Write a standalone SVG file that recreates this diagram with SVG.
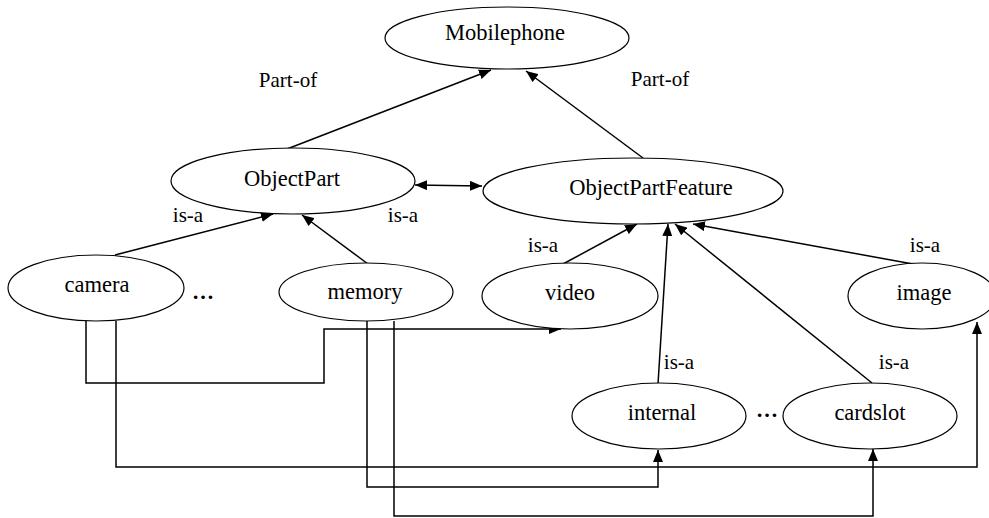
<svg xmlns="http://www.w3.org/2000/svg" width="989" height="518" viewBox="0 0 989 518">
<style>
  .node ellipse { fill: #fff; stroke: #000; stroke-width: 1.2; }
  text { font-family: "Liberation Serif", "DejaVu Serif", "Times New Roman", serif; font-size: 21px; fill: #000; text-anchor: middle; }
  .node text { font-size: 22.5px; }
  .dots { font-weight: bold; font-size: 22px; }
  .edge { fill: none; stroke: #000; stroke-width: 1.5; }
</style>
<defs>
  <marker id="arr" markerUnits="userSpaceOnUse" markerWidth="12" markerHeight="10" refX="12" refY="5" orient="auto-start-reverse" viewBox="0 0 12 10">
    <path d="M0,0 L12,5 L0,10 z" fill="#000"/>
  </marker>
</defs>
<rect width="989" height="518" fill="#fff"/>
<g id="connectors">
  <line class="edge" x1="287" y1="149" x2="491" y2="70" marker-end="url(#arr)"/>
  <line class="edge" x1="643" y1="158" x2="526" y2="71" marker-end="url(#arr)"/>
  <line class="edge" x1="415" y1="185" x2="482" y2="186" marker-start="url(#arr)" marker-end="url(#arr)"/>
  <line class="edge" x1="115" y1="255" x2="273" y2="214" marker-end="url(#arr)"/>
  <line class="edge" x1="368" y1="264" x2="302" y2="215" marker-end="url(#arr)"/>
  <line class="edge" x1="563" y1="264" x2="637" y2="224" marker-end="url(#arr)"/>
  <line class="edge" x1="658" y1="384" x2="668" y2="224" marker-end="url(#arr)"/>
  <line class="edge" x1="872" y1="383" x2="675" y2="224" marker-end="url(#arr)"/>
  <line class="edge" x1="913" y1="264" x2="693" y2="224" marker-end="url(#arr)"/>
  <polyline class="edge" points="86,321 86,383 324,383 324,329 561,329" marker-end="url(#arr)"/>
  <polyline class="edge" points="116,321 116,467 977,467 977,322" marker-end="url(#arr)"/>
  <polyline class="edge" points="367,321 367,487 658,487 658,450" marker-end="url(#arr)"/>
  <polyline class="edge" points="394,321 394,516 873,516 873,449" marker-end="url(#arr)"/>
</g>
<g id="labels">
  <text x="288" y="87">Part-of</text>
  <text x="660" y="86">Part-of</text>
  <text x="188" y="222">is-a</text>
  <text x="403" y="222">is-a</text>
  <text x="543" y="252">is-a</text>
  <text x="925" y="252">is-a</text>
  <text x="679" y="369">is-a</text>
  <text x="894" y="369">is-a</text>
  <text class="dots" x="203" y="299">…</text>
  <text class="dots" x="767" y="417">…</text>
</g>
<g id="Mobilephone" class="node"><ellipse cx="507" cy="38" rx="122" ry="31"/><text x="505" y="40">Mobilephone</text></g>
<g id="ObjectPart" class="node"><ellipse cx="293" cy="181" rx="122" ry="33"/><text x="292" y="186">ObjectPart</text></g>
<g id="ObjectPartFeature" class="node"><ellipse cx="633" cy="191" rx="150" ry="33"/><text x="651" y="195">ObjectPartFeature</text></g>
<g id="camera" class="node"><ellipse cx="96" cy="288" rx="88" ry="33"/><text x="97" y="292">camera</text></g>
<g id="memory" class="node"><ellipse cx="366" cy="292" rx="87" ry="29"/><text x="365" y="299">memory</text></g>
<g id="video" class="node"><ellipse cx="570" cy="296" rx="88" ry="33"/><text x="570" y="300">video</text></g>
<g id="image" class="node"><ellipse cx="922" cy="296" rx="74" ry="33"/><text x="924" y="300">image</text></g>
<g id="internal" class="node"><ellipse cx="659" cy="416" rx="87" ry="33"/><text x="662" y="420">internal</text></g>
<g id="cardslot" class="node"><ellipse cx="870" cy="416" rx="87" ry="33"/><text x="870" y="420">cardslot</text></g>
</svg>
